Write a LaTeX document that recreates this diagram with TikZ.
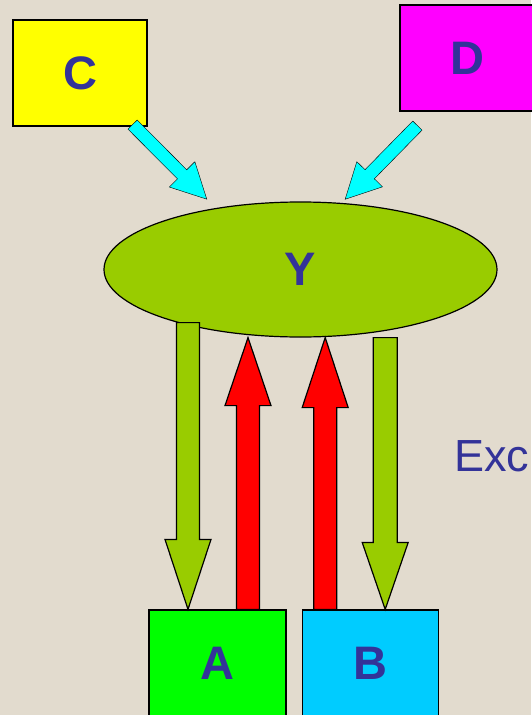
\documentclass[tikz,border=0pt]{standalone}
\usepackage{fontspec}
\setmainfont{Liberation Sans}
\usetikzlibrary{positioning,shapes.geometric,calc}
\definecolor{bgbeige}{RGB}{226,219,206}
\definecolor{letterblue}{RGB}{51,51,153}
\definecolor{yolk}{RGB}{153,204,0}
\definecolor{skyb}{RGB}{0,204,255}
\definecolor{feedcyan}{RGB}{0,255,255}
\definecolor{boxyellow}{RGB}{255,255,0}
\definecolor{boxmagenta}{RGB}{255,0,255}
\definecolor{boxgreen}{RGB}{0,255,0}
\definecolor{arrowred}{RGB}{255,0,0}

% block arrow: style, from, to, shaft half width, head half width, head length
\newcommand{\blockarrow}[6]{%
  \draw[#1] let \p1=(#2), \p2=(#3), \n1={atan2(\y2-\y1,\x2-\x1)}, \n2={veclen(\x2-\x1,\y2-\y1)} in
    [shift={(\p1)},rotate=\n1] (0,-#4) -- (\n2-#6,-#4) -- (\n2-#6,-#5) -- (\n2,0)
    -- (\n2-#6,#5) -- (\n2-#6,#4) -- (0,#4) -- cycle;}

\begin{document}
\begin{tikzpicture}[x=1pt,y=-1pt,
    box/.style={rectangle,draw=black,line width=1.2pt,minimum width=134pt,minimum height=106pt,inner sep=0pt,font=\fontsize{47}{52}\selectfont\bfseries,text=letterblue},
    hub/.style={ellipse,draw=black,line width=1.2pt,fill=yolk,minimum width=393pt,minimum height=135pt,inner sep=0pt,font=\fontsize{47}{52}\selectfont\bfseries,text=letterblue},
    outflow/.style={draw=black,line width=1.2pt,line join=miter,fill=yolk},
    backflow/.style={draw=black,line width=1.2pt,line join=miter,fill=arrowred},
    feed/.style={fill=feedcyan}]
    \fill[bgbeige] (0,0) rectangle (531,715);
    \useasboundingbox (0,0) rectangle (531,715);

    \node[box,fill=boxyellow] (C) at (80,73) {C};
    \node[box,fill=boxmagenta] (D) at (467,58) {D};
    \node[hub] (Y) at (300.5,269.5) {Y};
    \node[box,fill=boxgreen,minimum width=137pt] (A) at (217.5,663) {A};
    \node[box,fill=skyb,minimum width=136pt,right=15pt of A] (B) {B};
    \node[anchor=base west,inner sep=0pt,text=letterblue,font=\fontsize{45}{50}\selectfont] (exc) at (454,471) {Exc};

    % feeding arrows into Y
    \coordinate (cs) at ($(C.south east)+(-15,-2)$);
    \coordinate (ct) at ($(Y.north)+(-93.5,-2)$);
    \coordinate (ds) at ($(D.south west)+(18,14)$);
    \coordinate (dt) at ($(Y.north)+(44.5,-2)$);
    \blockarrow{feed}{cs}{ct}{6.5}{18}{35}
    \blockarrow{feed}{ds}{dt}{6.5}{18}{35}

    % arrows between Y and A, B
    \coordinate (ga) at ([xshift=-29.5pt]A.north);
    \coordinate (ra) at ([xshift=30.5pt]A.north);
    \coordinate (rb) at ([xshift=-45pt]B.north);
    \coordinate (gb) at ([xshift=15pt]B.north);
    \coordinate (gatop) at ($(ga |- Y.south)+(0,-15)$);
    \blockarrow{outflow}{gatop}{ga}{11.5}{23}{70}
    \blockarrow{backflow}{ra}{ra |- Y.south}{11.5}{23}{68}
    \blockarrow{backflow}{rb}{rb |- Y.south}{11.5}{23}{70}
    \blockarrow{outflow}{gb |- Y.south}{gb}{12}{23}{67}
\end{tikzpicture}
\end{document}
